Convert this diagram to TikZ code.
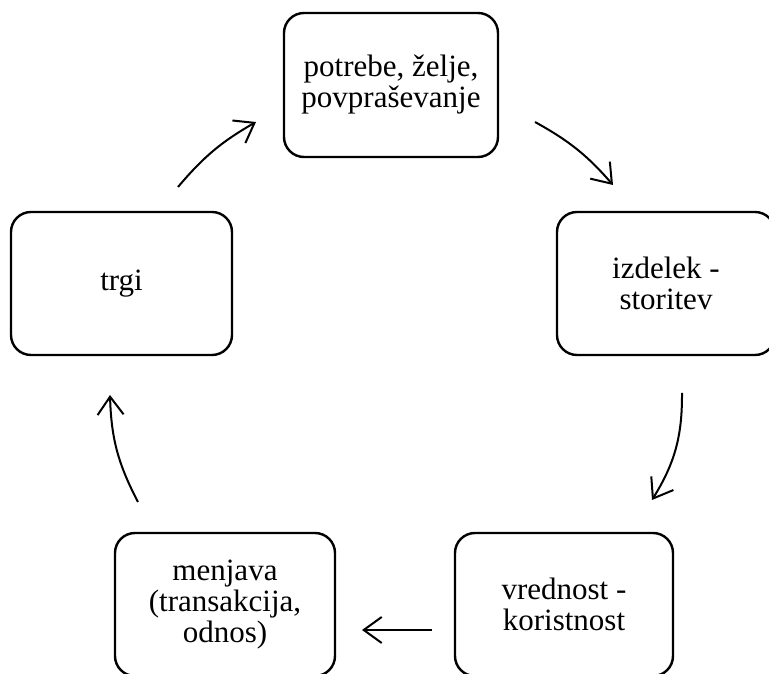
\documentclass[tikz,border=0pt]{standalone}
\usepackage{fontspec}
\setmainfont{Liberation Serif}
\usetikzlibrary{arrows.meta}
\tikzset{
  box/.style={draw=black, line width=2.4pt, rounded corners=20pt, fill=white,
    minimum width=218pt, minimum height=143pt, inner sep=0pt, align=center,
    font=\fontsize{31}{31}\selectfont},
  flow/.style={draw=black, line width=2pt,
    -{Straight Barb[length=18pt,width=26pt,line width=2pt]}}
}
\begin{document}
\begin{tikzpicture}[x=1pt,y=1pt]
\useasboundingbox (0,0) rectangle (769,674);
\fill[white] (0,0) rectangle (769,674);
\node[box, minimum width=214pt, minimum height=144pt] (T) at (391,589) {potrebe, želje,\\povpraševanje};
\node[box] (R) at (666,390.5) {izdelek -\\storitev};
\node[box] (BR) at (564,69.5) {vrednost -\\koristnost};
\node[box, minimum width=220pt] (BL) at (225,69.5) {menjava\\(transakcija,\\odnos)};
\node[box, minimum width=221pt] (L) at (121.5,390.5) {trgi};
\coordinate (a1s) at (178,487);
\coordinate (a1e) at (256,552);
\coordinate (a2s) at (535,552);
\coordinate (a2e) at (613,489);
\coordinate (a3s) at (682,281);
\coordinate (a3e) at (652,174);
\coordinate (a4s) at (432,44);
\coordinate (a4e) at (362,44);
\coordinate (a5s) at (138,172);
\coordinate (a5e) at (110,279);
\draw[flow] (a1s) to[bend left=10] (a1e);
\draw[flow] (a2s) to[bend left=10] (a2e);
\draw[flow] (a3s) to[bend left=16] (a3e);
\draw[flow] (a4s) -- (a4e);
\draw[flow] (a5s) to[bend left=13] (a5e);
\end{tikzpicture}
\end{document}
